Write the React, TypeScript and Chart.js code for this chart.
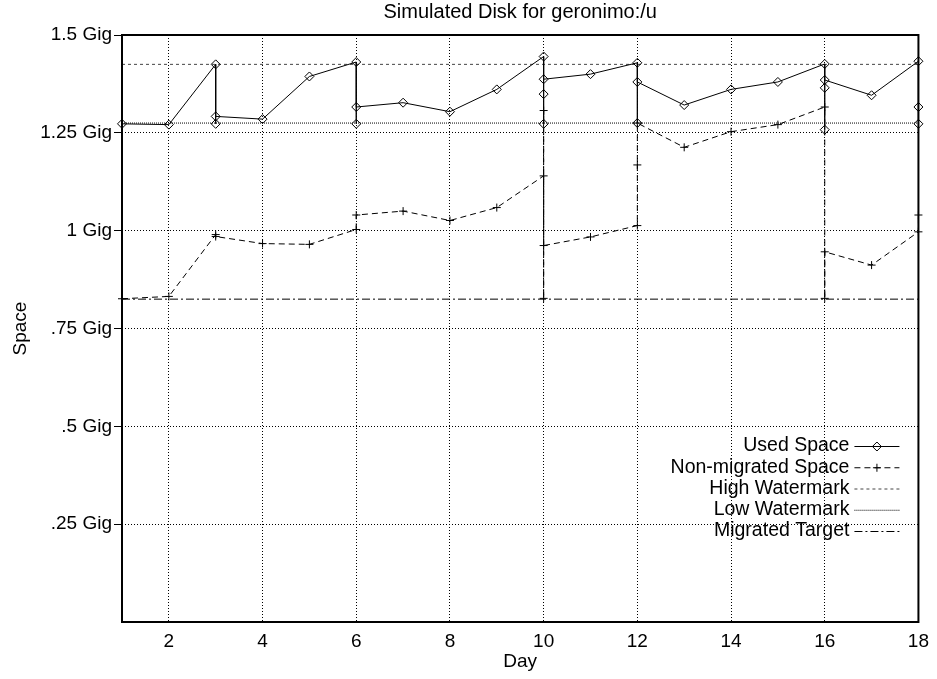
import React, { useEffect, useRef } from 'react';
import { Chart, registerables } from 'chart.js';

Chart.register(...registerables);

const chartTitle = 'Simulated Disk for geronimo:/u';
const xAxisTitle = 'Day';
const yAxisTitle = 'Space';
const xTickValues = [2, 4, 6, 8, 10, 12, 14, 16, 18];
const yTickValues = [0.25, 0.5, 0.75, 1, 1.25, 1.5];
const yTickLabels = ['.25 Gig', '.5 Gig', '.75 Gig', '1 Gig', '1.25 Gig', '1.5 Gig'];

const usedDays = [1, 2, 3, 3, 3, 4, 5, 6, 6, 6, 7, 8, 9, 10, 10, 10, 10, 11, 12, 12, 12, 13, 14, 15, 16, 16, 16, 16, 17, 18, 18, 18];
const usedValues = [1.273, 1.271, 1.425, 1.273, 1.292, 1.285, 1.394, 1.431, 1.273, 1.316, 1.327, 1.304, 1.361, 1.445, 1.273, 1.349, 1.387, 1.4, 1.429, 1.275, 1.38, 1.321, 1.361, 1.38, 1.426, 1.258, 1.365, 1.385, 1.346, 1.433, 1.273, 1.316];

const nonMigratedDays = [1, 2, 3, 3, 4, 5, 6, 6, 7, 8, 9, 10, 10, 10, 10, 11, 12, 12, 12, 13, 14, 15, 16, 16, 16, 17, 18, 18];
const nonMigratedValues = [0.826, 0.832, 0.99, 0.985, 0.967, 0.965, 1.003, 1.04, 1.05, 1.026, 1.059, 1.14, 0.827, 1.307, 0.962, 0.984, 1.013, 1.168, 1.275, 1.213, 1.253, 1.271, 1.316, 0.827, 0.946, 0.912, 0.997, 1.04];

const watermarkDays = [1, 18];
const highWatermark = [1.425, 1.425];
const lowWatermark = [1.275, 1.275];
const migratedTarget = [0.825, 0.825];

const FONT_FAMILY = '"Liberation Sans", Arial, Helvetica, sans-serif';
const FONT_SIZE = 19;
const TITLE_SIZE = 20;
const LEGEND_SIZE = 19.5;

const toPoints = (xs: number[], ys: number[]) => xs.map((x, i) => ({ x, y: ys[i] }));

const boxPlugin = {
  id: 'boxBorder',
  afterDatasetsDraw(chart: any) {
    const { ctx, chartArea } = chart;
    ctx.save();
    ctx.strokeStyle = '#000';
    ctx.lineWidth = 2;
    ctx.setLineDash([]);
    ctx.strokeRect(chartArea.left, chartArea.top, chartArea.right - chartArea.left, chartArea.bottom - chartArea.top);
    ctx.restore();
  },
};

const titlePlugin = {
  id: 'areaTitle',
  afterDraw(chart: any) {
    const { ctx, chartArea } = chart;
    ctx.save();
    ctx.font = `${TITLE_SIZE}px ${FONT_FAMILY}`;
    ctx.fillStyle = '#000';
    ctx.textAlign = 'center';
    ctx.textBaseline = 'middle';
    ctx.fillText(chartTitle, (chartArea.left + chartArea.right) / 2, chartArea.top - 23);
    ctx.restore();
  },
};

const legendPlugin = {
  id: 'gnuLegend',
  afterDraw(chart: any) {
    const { ctx, chartArea } = chart;
    const textX = chartArea.right - 69;
    const x1 = chartArea.right - 64;
    const x2 = chartArea.right - 19;
    const xm = (x1 + x2) / 2;
    ctx.save();
    ctx.font = `${LEGEND_SIZE}px ${FONT_FAMILY}`;
    ctx.textAlign = 'right';
    ctx.textBaseline = 'middle';
    chart.data.datasets.forEach((ds: any, i: number) => {
      const y = chartArea.top + 411 + i * 21.25;
      ctx.fillStyle = '#000';
      ctx.fillText(ds.label, textX, y);
      ctx.strokeStyle = ds.borderColor;
      ctx.lineWidth = ds.borderWidth;
      ctx.setLineDash(ds.borderDash || []);
      ctx.beginPath();
      ctx.moveTo(x1, y + 0.5);
      ctx.lineTo(x2, y + 0.5);
      ctx.stroke();
      ctx.setLineDash([]);
      const r = ds.pointRadius || 0;
      if (r > 0) {
        ctx.strokeStyle = '#000';
        ctx.lineWidth = 1;
        ctx.beginPath();
        if (ds.pointStyle === 'rectRot') {
          ctx.moveTo(xm - r, y + 0.5);
          ctx.lineTo(xm, y + 0.5 - r);
          ctx.lineTo(xm + r, y + 0.5);
          ctx.lineTo(xm, y + 0.5 + r);
          ctx.closePath();
        } else {
          ctx.moveTo(xm, y + 0.5 - r);
          ctx.lineTo(xm, y + 0.5 + r);
          ctx.moveTo(xm - r, y + 0.5);
          ctx.lineTo(xm + r, y + 0.5);
        }
        ctx.stroke();
      }
    });
    ctx.restore();
  },
};

export default function App() {
  const canvasRef = useRef<HTMLCanvasElement | null>(null);

  useEffect(() => {
    if (!canvasRef.current) return;
    const font = { family: FONT_FAMILY, size: FONT_SIZE, weight: 'normal' as const };
    const chart = new Chart(canvasRef.current, {
      type: 'line',
      data: {
        datasets: [
          {
            label: 'Used Space',
            data: toPoints(usedDays, usedValues),
            borderColor: '#000',
            borderWidth: 1,
            pointStyle: 'rectRot',
            pointRadius: 4.5,
            pointBorderWidth: 1,
            pointBorderColor: '#000',
            pointBackgroundColor: 'rgba(0,0,0,0)',
            tension: 0,
            clip: false,
          } as any,
          {
            label: 'Non-migrated Space',
            data: toPoints(nonMigratedDays, nonMigratedValues),
            borderColor: '#000',
            borderWidth: 1,
            borderDash: [6, 4],
            pointStyle: 'cross',
            pointRadius: 4,
            pointBorderWidth: 1,
            pointBorderColor: '#000',
            pointBackgroundColor: 'rgba(0,0,0,0)',
            tension: 0,
            clip: false,
          } as any,
          {
            label: 'High Watermark',
            data: toPoints(watermarkDays, highWatermark),
            borderColor: '#444',
            borderWidth: 1,
            borderDash: [3, 3],
            pointRadius: 0,
          } as any,
          {
            label: 'Low Watermark',
            data: toPoints(watermarkDays, lowWatermark),
            borderColor: '#000',
            borderWidth: 1,
            borderDash: [1, 1],
            pointRadius: 0,
          } as any,
          {
            label: 'Migrated Target',
            data: toPoints(watermarkDays, migratedTarget),
            borderColor: '#000',
            borderWidth: 1,
            borderDash: [8, 3, 2, 3],
            pointRadius: 0,
          } as any,
        ],
      },
      options: {
        responsive: false,
        animation: false,
        layout: { padding: { top: 35, right: 17, bottom: 0, left: 0 } },
        plugins: {
          legend: { display: false },
          tooltip: { enabled: false },
          title: { display: false },
        },
        scales: {
          x: {
            type: 'linear',
            min: 1,
            max: 18,
            afterBuildTicks: (scale: any) => {
              scale.ticks = xTickValues.map((v) => ({ value: v }));
            },
            afterFit: (scale: any) => {
              scale.height = 57;
            },
            grid: { color: '#000', lineWidth: 1, drawTicks: false },
            border: { display: false, dash: [1, 2] },
            ticks: {
              color: '#000',
              font,
              padding: 8,
              maxRotation: 0,
              autoSkip: false,
              callback: (v: any) => String(v),
            },
            title: {
              display: true,
              text: xAxisTitle,
              color: '#000',
              font,
              padding: { top: 0, bottom: 6 },
            },
          },
          y: {
            type: 'linear',
            min: 0,
            max: 1.5,
            afterBuildTicks: (scale: any) => {
              scale.ticks = yTickValues.map((v) => ({ value: v }));
            },
            afterFit: (scale: any) => {
              scale.width = 122;
            },
            grid: { color: '#000', lineWidth: 1, drawTicks: true, tickLength: 8, tickColor: '#000' },
            border: { display: false, dash: [1, 2] },
            ticks: {
              color: '#000',
              font,
              padding: 2,
              autoSkip: false,
              callback: (_v: any, i: number) => yTickLabels[i],
            },
            title: {
              display: true,
              text: yAxisTitle,
              color: '#000',
              font,
              padding: { top: 9, bottom: 0 },
            },
          },
        },
      } as any,
      plugins: [boxPlugin, titlePlugin, legendPlugin],
    });
    return () => chart.destroy();
  }, []);

  return (
    <div style={{ position: 'fixed', left: 0, top: 0, width: 937, height: 679, background: '#fff' }}>
      <canvas ref={canvasRef} width={937} height={679} style={{ display: 'block' }} />
    </div>
  );
}
